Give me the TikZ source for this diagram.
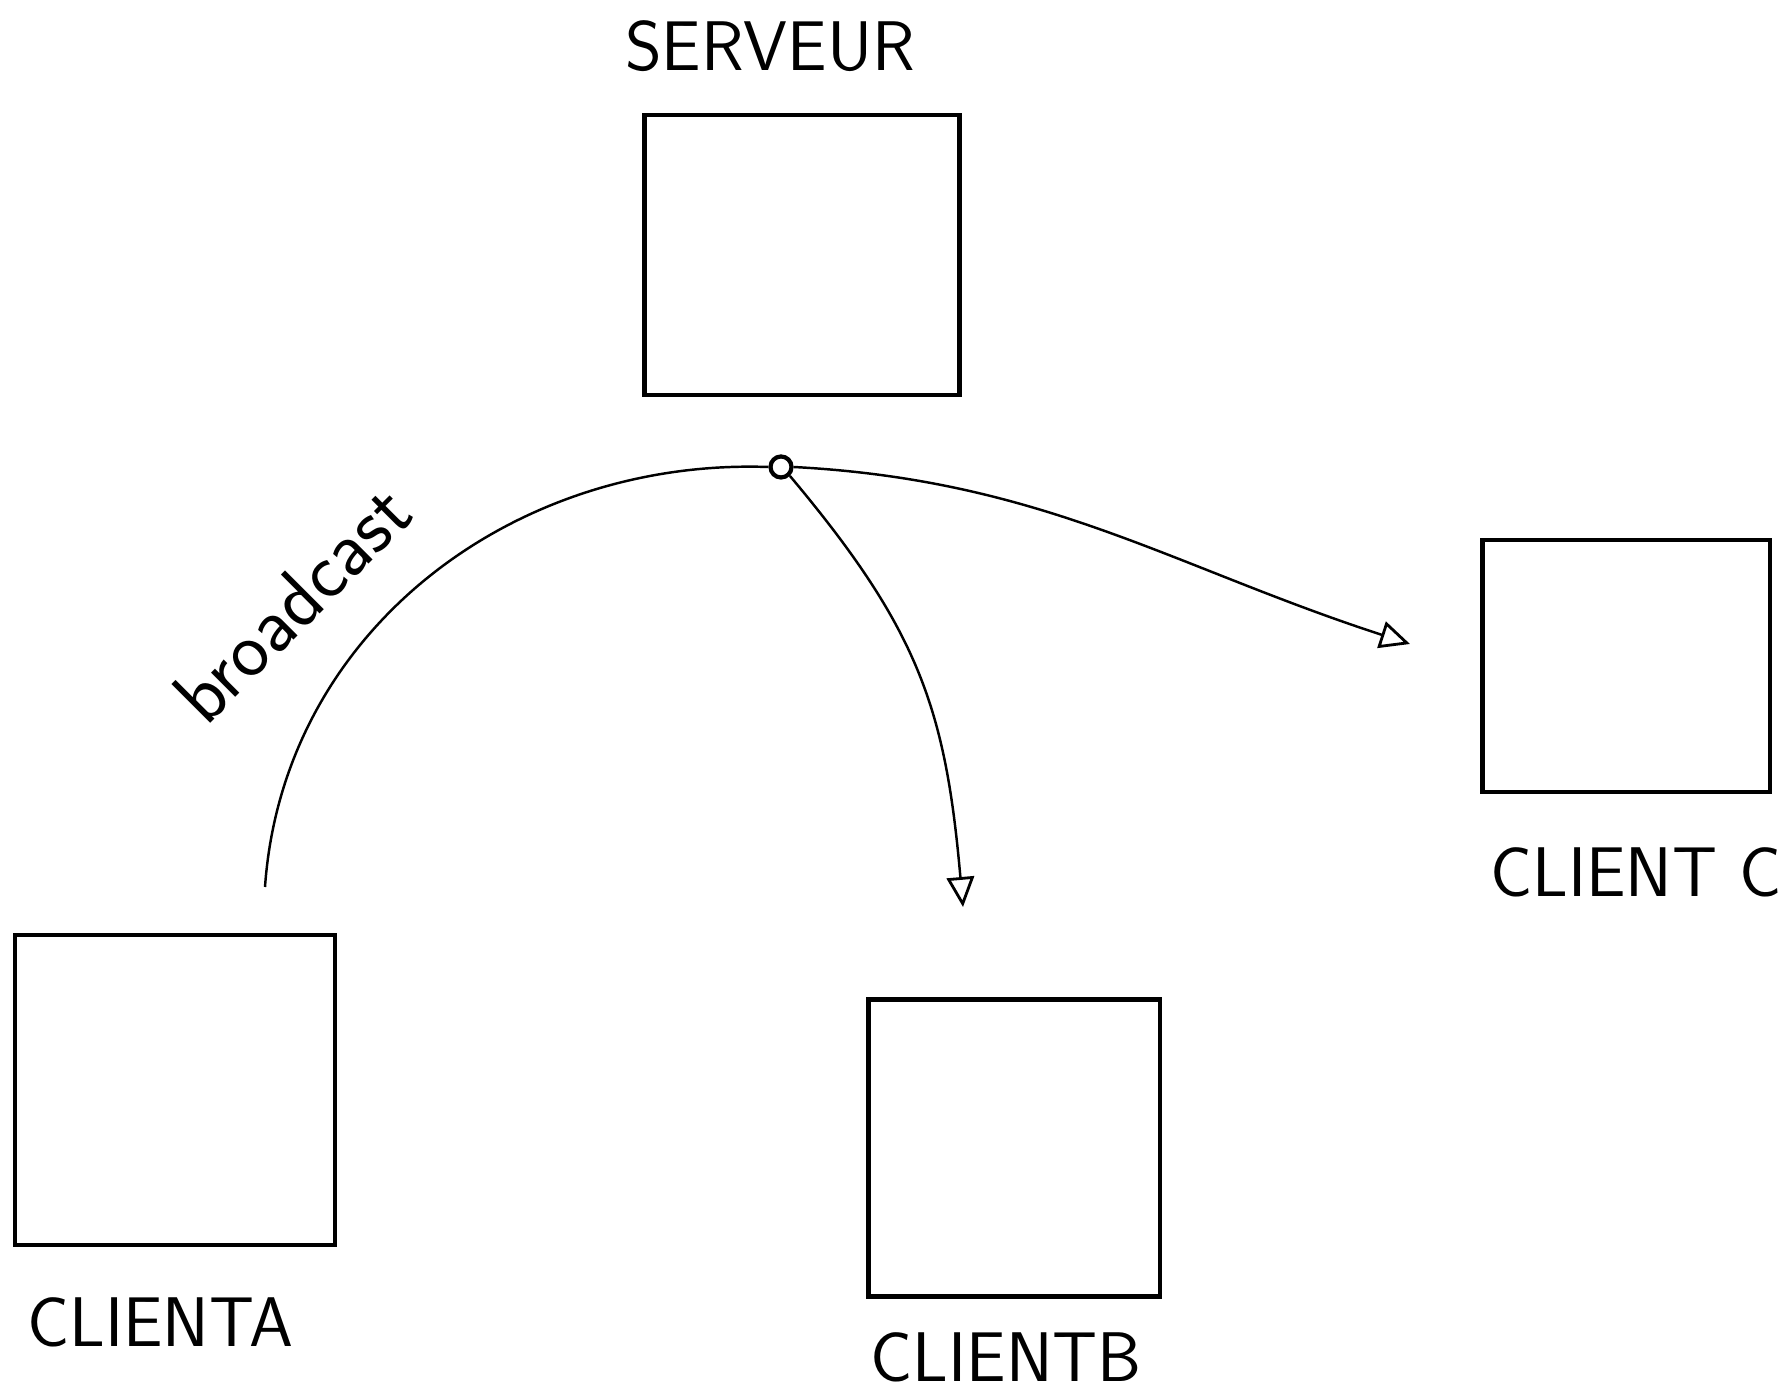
\documentclass[tikz,border=0pt]{standalone}
\usetikzlibrary{arrows.meta}
\begin{document}
\begin{tikzpicture}[x=0.02cm,y=0.02cm,
  machine/.style={draw,line width=2.8pt,rectangle,inner sep=0pt},
  tag/.style={font=\sffamily\fontsize{40}{48}\selectfont},
  link/.style={line width=1.4pt},
  sent/.style={link,-{Triangle[open,length=0.6cm,width=0.55cm,line width=1.6pt]}}]
\useasboundingbox (0,0) rectangle (1788,1393);
% machines
\node[machine,minimum width=6.3cm,minimum height=5.6cm] (serveur) at (802,1138) {};
\node[machine,minimum width=6.4cm,minimum height=6.2cm] (clienta) at (175,303) {};
\node[machine,minimum width=5.84cm,minimum height=5.94cm] (clientb) at (1014,245) {};
\node[machine,minimum width=5.76cm,minimum height=5.04cm] (clientc) at (1626,727) {};
% labels
\node[tag] (lserveur) at (770,1347) {SERVEUR};
\node[tag] (lclienta) at (160,71) {CLIENTA};
\node[tag] (lclientb) at (1006,36) {CLIENTB};
\node[tag] (lclientc) at (1636,521) {CLIENT C};
% broadcast
\node[draw,circle,line width=2.4pt,minimum size=0.42cm,inner sep=0pt] (hub) at (781,926) {};
\coordinate (aout) at (265,506);
\coordinate (bin) at (963,486);
\coordinate (cin) at (1410,749);
\draw[link] (aout) to[out=86,in=178] (hub.west);
\draw[sent] (hub.south east) to[out=-50,in=95,looseness=1.1] (bin);
\draw[sent] (hub.east) to[out=-3,in=162] (cin);
\node[tag,rotate=45,font=\sffamily\fontsize{45}{54}\selectfont] (lbroadcast) at (292,790) {broadcast};
\end{tikzpicture}
\end{document}
